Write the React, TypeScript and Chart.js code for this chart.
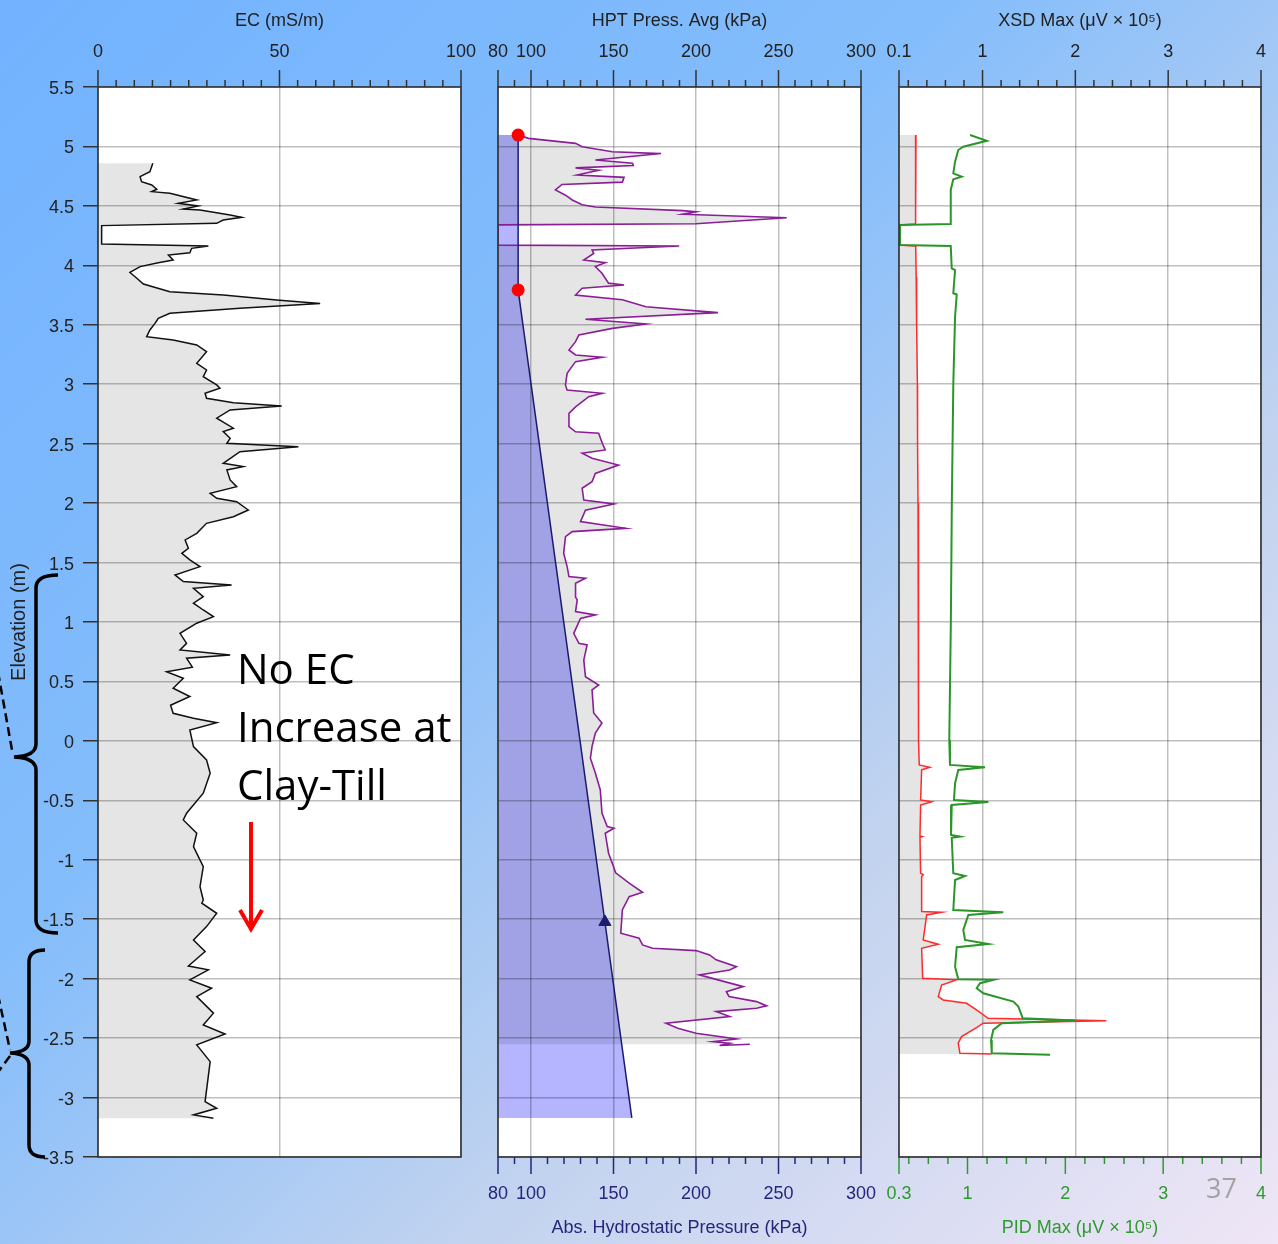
import React, { useEffect, useRef } from "react";
import { Chart, registerables } from "chart.js";

Chart.register(...registerables);

const W = 1278;
const H = 1244;
const FONT = "'Liberation Sans', Arial, Helvetica, sans-serif";

// ---------- axes ----------
const elevationTicks = [5.5, 5, 4.5, 4, 3.5, 3, 2.5, 2, 1.5, 1, 0.5, 0, -0.5, -1, -1.5, -2, -2.5, -3, -3.5];
const ecTicks = [0, 50, 100];
const hptTicks = [80, 100, 150, 200, 250, 300];
const xsdTicks = [0.1, 1, 2, 3, 4];
const pidTicks = [0.3, 1, 2, 3, 4];

// ---------- EC log ----------
const ecElevation = [4.858, 4.788, 4.746, 4.704, 4.676, 4.64, 4.62, 4.606, 4.55, 4.522, 4.5, 4.474, 4.466, 4.424, 4.404, 4.381, 4.353, 4.334, 4.18, 4.163, 4.143, 4.106, 4.087, 4.045, 4.022, 3.989, 3.94, 3.891, 3.843, 3.778, 3.75, 3.708, 3.68, 3.64, 3.597, 3.555, 3.512, 3.456, 3.4, 3.372, 3.33, 3.274, 3.176, 3.12, 3.064, 2.994, 2.966, 2.924, 2.882, 2.845, 2.817, 2.784, 2.714, 2.63, 2.601, 2.545, 2.503, 2.475, 2.433, 2.335, 2.307, 2.279, 2.195, 2.138, 2.083, 2.041, 2.012, 1.942, 1.886, 1.83, 1.746, 1.69, 1.62, 1.578, 1.522, 1.466, 1.396, 1.34, 1.312, 1.284, 1.213, 1.158, 1.101, 1.045, 0.99, 0.905, 0.821, 0.765, 0.723, 0.695, 0.62, 0.582, 0.527, 0.443, 0.373, 0.3, 0.232, 0.19, 0.153, 0.092, -0.048, -0.16, -0.272, -0.44, -0.608, -0.665, -0.777, -0.89, -1.057, -1.226, -1.338, -1.365, -1.45, -1.562, -1.674, -1.772, -1.893, -1.926, -2.01, -2.08, -2.151, -2.29, -2.389, -2.465, -2.557, -2.698, -3.034, -3.09, -3.146, -3.174];
const ecValue = [15.1, 14.3, 11.6, 12.0, 14.8, 16.2, 14.8, 19.8, 27.2, 22.1, 27.6, 23.5, 28.1, 36.4, 39.6, 34.5, 32.7, 1.0, 1.0, 30.4, 25.8, 25.3, 19.4, 20.7, 16.6, 11.6, 8.8, 10.7, 12.5, 19.8, 34.5, 49.2, 61.2, 39.1, 19.8, 16.6, 15.7, 14.3, 13.4, 20.7, 27.2, 29.9, 27.2, 29.9, 29.0, 32.7, 33.6, 29.5, 29.9, 37.3, 50.6, 36.4, 32.7, 37.3, 34.5, 36.4, 35.5, 55.2, 39.1, 34.5, 40.0, 35.5, 36.4, 38.2, 30.9, 32.7, 38.2, 41.4, 37.3, 29.9, 27.2, 24.0, 24.9, 23.1, 25.3, 28.1, 21.2, 23.5, 36.8, 26.3, 29.0, 26.3, 29.0, 31.8, 27.2, 22.6, 24.4, 22.6, 36.4, 24.4, 26.0, 18.9, 23.5, 20.7, 25.3, 20.0, 20.7, 26.3, 32.7, 25.3, 26.3, 29.9, 30.9, 29.0, 24.4, 23.5, 27.2, 26.3, 29.0, 28.1, 29.0, 28.6, 32.7, 29.9, 26.3, 29.5, 24.9, 30.4, 25.3, 31.3, 27.2, 31.8, 29.0, 35.0, 27.2, 30.9, 29.5, 32.7, 26.3, 31.8];

// ---------- HPT pressure ----------
const hptElevation = [5.096, 5.068, 5.026, 4.998, 4.956, 4.94, 4.886, 4.858, 4.84, 4.82, 4.8, 4.76, 4.74, 4.7, 4.68, 4.634, 4.59, 4.55, 4.51, 4.49, 4.46, 4.45, 4.43, 4.4, 4.35, 4.34, 4.17, 4.163, 4.13, 4.1, 4.045, 4.022, 3.99, 3.933, 3.85, 3.835, 3.807, 3.75, 3.71, 3.652, 3.602, 3.546, 3.507, 3.47, 3.414, 3.358, 3.288, 3.246, 3.227, 3.19, 3.092, 2.994, 2.952, 2.924, 2.895, 2.81, 2.755, 2.643, 2.6, 2.587, 2.503, 2.447, 2.42, 2.377, 2.32, 2.25, 2.18, 2.125, 2.026, 1.993, 1.94, 1.844, 1.788, 1.76, 1.718, 1.578, 1.466, 1.382, 1.368, 1.326, 1.21, 1.186, 1.087, 1.06, 1.03, 0.905, 0.82, 0.807, 0.68, 0.54, 0.47, 0.43, 0.235, 0.15, 0.066, -0.047, -0.145, -0.27, -0.413, -0.607, -0.72, -0.735, -0.777, -0.945, -1.03, -1.11, -1.197, -1.273, -1.31, -1.42, -1.618, -1.66, -1.716, -1.744, -1.764, -1.8, -1.842, -1.899, -1.927, -1.968, -2.067, -2.109, -2.15, -2.193, -2.229, -2.249, -2.277, -2.319, -2.375, -2.417, -2.459, -2.507, -2.53, -2.543, -2.562, -2.551];
const hptPressure = [92.4, 98.5, 127, 131, 149.3, 178.8, 139, 161.5, 162, 127, 141, 128, 156.4, 155.4, 118.8, 114.8, 120.9, 125, 131, 139, 192, 200, 192, 255, 200, 80, 80, 189.8, 137, 138, 132, 145, 139, 143, 147, 156.4, 131, 127, 155.4, 169.6, 213.3, 133, 169.6, 149.3, 129, 127, 123, 127, 143.2, 127, 121.9, 120.9, 121.9, 143.2, 135, 127, 123, 123, 127, 141, 143.2, 145, 131, 137, 153, 139, 137, 131, 132, 150.3, 133, 130, 157.4, 125, 120.9, 119.8, 121.9, 123, 133, 127, 127, 128, 127, 139, 130, 125.9, 129, 134, 132, 133, 141, 137, 138, 143, 139, 137, 136, 139, 142, 143, 146.2, 150.3, 145, 147, 149.3, 151.3, 159.5, 167.6, 159.5, 155.4, 154.4, 165.5, 167.6, 173.7, 200, 208.2, 212.2, 224.5, 220.4, 202, 228.6, 218.4, 220, 236.7, 242.8, 236.7, 212.2, 220.4, 181.8, 189, 200, 224.5, 210.3, 220.4, 214.3, 232.6];

// ---------- Absolute hydrostatic pressure ----------
const hydroElevation = [5.096, 3.793, -3.171];
const hydroPressure = [92.2, 92.2, 161.1];
const markerElevation = [5.096, 3.793];
const markerPressure = [92.2, 92.2];
const triangleElevation = [-1.523];
const trianglePressure = [144.8];

// ---------- XSD (red, top axis) ----------
const xsdElevation = [5.096, 4.7, 4.4, 4.348, 4.34, 4.171, 4.163, 3.9, 3.5, 3.0, 2.5, 2.0, 1.5, 1.0, 0.5, 0.008, -0.202, -0.222, -0.244, -0.497, -0.511, -0.539, -0.8, -0.805, -0.81, -1.113, -1.125, -1.14, -1.436, -1.441, -1.464, -1.674, -1.71, -1.744, -1.997, -2.01, -2.053, -2.151, -2.179, -2.207, -2.263, -2.333, -2.355, -2.375, -2.403, -2.487, -2.543, -2.627, -2.633];
const xsdValue = [0.283, 0.283, 0.278, 0.275, 0.1, 0.1, 0.28, 0.285, 0.29, 0.298, 0.3, 0.305, 0.31, 0.31, 0.314, 0.308, 0.318, 0.433, 0.344, 0.333, 0.452, 0.333, 0.326, 0.35, 0.326, 0.333, 0.361, 0.344, 0.344, 0.559, 0.398, 0.361, 0.523, 0.344, 0.355, 0.72, 0.559, 0.523, 0.576, 0.828, 0.935, 1.06, 2.333, 1.006, 0.953, 0.774, 0.738, 0.756, 1.097];

// ---------- PID (green, bottom axis) ----------
const pidElevation = [5.096, 5.048, 4.998, 4.97, 4.872, 4.774, 4.746, 4.724, 4.634, 4.41, 4.348, 4.34, 4.171, 4.163, 3.975, 3.96, 3.765, 3.755, 3.568, 3.0, 2.0, 1.0, 0.008, -0.202, -0.222, -0.244, -0.356, -0.497, -0.513, -0.539, -0.791, -0.805, -0.815, -1.113, -1.136, -1.17, -1.422, -1.441, -1.464, -1.59, -1.674, -1.708, -1.736, -1.899, -2.005, -2.01, -2.038, -2.08, -2.123, -2.193, -2.235, -2.333, -2.352, -2.375, -2.431, -2.515, -2.627, -2.641];
const pidValue = [1.026, 1.197, 0.957, 0.906, 0.873, 0.855, 0.941, 0.855, 0.829, 0.829, 0.829, 0.31, 0.31, 0.829, 0.839, 0.873, 0.855, 0.89, 0.873, 0.855, 0.84, 0.83, 0.814, 0.821, 1.179, 0.906, 0.873, 0.862, 1.213, 0.839, 0.832, 0.924, 0.839, 0.855, 0.975, 0.873, 0.855, 1.366, 1.009, 0.957, 0.975, 1.213, 0.89, 0.873, 0.906, 1.264, 1.128, 1.094, 1.162, 1.469, 1.52, 1.565, 2.1, 1.35, 1.264, 1.241, 1.248, 1.844];

// ---------- layout constants ----------
const PLOT_TOP = 87;
const PLOT_BOTTOM = 1157;
const P1 = [98, 461];
const P2 = [498, 861];
const P3 = [899, 1261];

function range(a: number, b: number, step: number, skip: number[]) {
  const out: number[] = [];
  for (let v = a; v <= b + 1e-9; v += step) {
    const r = Math.round(v * 100) / 100;
    if (!skip.some((s) => Math.abs(s - r) < 1e-6)) out.push(r);
  }
  return out;
}

const pts = (xs: number[], ys: number[]) => xs.map((x, i) => ({ x, y: ys[i] }));

type FillDef = { xs: number[]; ys: number[]; axis: string; color: string };
type TickDef = { axis: string; side: "top" | "bottom"; major: number[]; minor: number[]; color: string };

function makeDecor(id: string, fills: FillDef[], tickSets: TickDef[]) {
  return {
    id,
    beforeDraw(chart: any) {
      const { ctx, chartArea: a, scales } = chart;
      ctx.save();
      ctx.fillStyle = "#ffffff";
      ctx.fillRect(a.left, a.top, a.right - a.left, a.bottom - a.top);
      ctx.beginPath();
      ctx.rect(a.left, a.top, a.right - a.left, a.bottom - a.top);
      ctx.clip();
      const yS = scales.y;
      for (const f of fills) {
        const xS = scales[f.axis];
        ctx.beginPath();
        ctx.moveTo(a.left, yS.getPixelForValue(f.ys[0]));
        f.xs.forEach((v, i) => ctx.lineTo(xS.getPixelForValue(v), yS.getPixelForValue(f.ys[i])));
        ctx.lineTo(a.left, yS.getPixelForValue(f.ys[f.ys.length - 1]));
        ctx.closePath();
        ctx.fillStyle = f.color;
        ctx.fill();
      }
      ctx.restore();
    },
    afterDraw(chart: any) {
      const { ctx, chartArea: a, scales } = chart;
      ctx.save();
      for (const t of tickSets) {
        const s = scales[t.axis];
        const edge = t.side === "top" ? a.top : a.bottom;
        const dir = t.side === "top" ? -1 : 1;
        ctx.strokeStyle = t.color;
        ctx.lineWidth = 1.5;
        ctx.beginPath();
        for (const v of t.major) {
          const x = s.getPixelForValue(v);
          ctx.moveTo(x, edge);
          ctx.lineTo(x, edge + dir * 17);
        }
        for (const v of t.minor) {
          const x = s.getPixelForValue(v);
          ctx.moveTo(x, edge);
          ctx.lineTo(x, edge + dir * 7);
        }
        ctx.stroke();
      }
      ctx.strokeStyle = "#333333";
      ctx.lineWidth = 1.6;
      ctx.strokeRect(a.left, a.top, a.right - a.left, a.bottom - a.top);
      ctx.restore();
    },
  };
}

const GRID = "rgba(0,0,0,0.25)";
const fmt = (v: any) => String(Math.round(Number(v) * 100) / 100);

function xAxis(position: "top" | "bottom", min: number, max: number, ticks: number[], title: string, color: string, drawGrid: boolean) {
  return {
    type: "linear",
    axis: "x",
    position,
    min,
    max,
    afterBuildTicks: (s: any) => {
      s.ticks = ticks.map((v) => ({ value: v }));
    },
    afterFit: (s: any) => {
      s.height = position === "top" ? PLOT_TOP : H - PLOT_BOTTOM;
    },
    grid: {
      display: true,
      drawOnChartArea: drawGrid,
      drawTicks: true,
      tickLength: position === "top" ? 24 : 26,
      tickColor: "rgba(0,0,0,0)",
      color: GRID,
      lineWidth: 1.5,
    },
    border: { display: false },
    ticks: {
      autoSkip: false,
      maxRotation: 0,
      minRotation: 0,
      padding: 0,
      color,
      font: { family: FONT, size: 18 },
      callback: (v: any) => fmt(v),
    },
    title: {
      display: true,
      text: title,
      color,
      font: { family: FONT, size: 18 },
      padding: position === "top" ? { top: 10, bottom: 0 } : { top: 0, bottom: 5 },
    },
  };
}

function yAxis(labeled: boolean) {
  return {
    type: "linear",
    axis: "y",
    position: "left",
    min: -3.5,
    max: 5.5,
    afterBuildTicks: (s: any) => {
      s.ticks = elevationTicks.map((v) => ({ value: v }));
    },
    afterFit: (s: any) => {
      s.width = labeled ? P1[0] : 0;
    },
    grid: {
      color: GRID,
      lineWidth: 1.5,
      drawTicks: labeled,
      tickLength: 15,
      tickColor: "#333333",
      tickWidth: 1.5,
    },
    border: { display: false },
    ticks: {
      display: labeled,
      padding: 9,
      labelOffset: 2,
      color: "#222222",
      font: { family: FONT, size: 18 },
      callback: (v: any) => fmt(v),
    },
    title: {
      display: labeled,
      text: "Elevation (m)",
      color: "#222222",
      font: { family: FONT, size: 20 },
      padding: { top: 7, bottom: 0 },
    },
  };
}

const baseOptions = (left: number, right: number, bottomPad: number) => ({
  responsive: false,
  animation: false,
  events: [],
  devicePixelRatio: 1,
  layout: { padding: { left, top: 0, right: W - right, bottom: bottomPad } },
  plugins: { legend: { display: false }, tooltip: { enabled: false } },
});

function ecConfig() {
  return {
    type: "scatter",
    data: {
      datasets: [
        {
          data: pts(ecValue, ecElevation),
          xAxisID: "xTop",
          yAxisID: "y",
          showLine: true,
          borderColor: "#111111",
          borderWidth: 1.5,
          pointRadius: 0,
        },
      ],
    },
    options: {
      ...baseOptions(0, P1[1], H - PLOT_BOTTOM),
      scales: {
        xTop: xAxis("top", 0, 100, ecTicks, "EC (mS/m)", "#222222", true),
        y: yAxis(true),
      },
    },
    plugins: [
      makeDecor(
        "decorEC",
        [{ xs: ecValue, ys: ecElevation, axis: "xTop", color: "rgba(0,0,0,0.1)" }],
        [{ axis: "xTop", side: "top", major: ecTicks, minor: range(5, 95, 5, ecTicks), color: "#333333" }]
      ),
    ],
  };
}

const NAVY = "#26267a";
const GREEN = "#2e9a2e";

function hptConfig() {
  return {
    type: "scatter",
    data: {
      datasets: [
        {
          data: pts(markerPressure, markerElevation),
          xAxisID: "xBot",
          yAxisID: "y",
          showLine: false,
          pointRadius: 6.5,
          pointBackgroundColor: "#ff0000",
          pointBorderWidth: 0,
        },
        {
          data: pts(trianglePressure, triangleElevation),
          xAxisID: "xBot",
          yAxisID: "y",
          showLine: false,
          pointStyle: "triangle",
          pointRadius: 7,
          pointBackgroundColor: "#1c1c6e",
          pointBorderColor: "#1c1c6e",
          pointBorderWidth: 1,
        },
        {
          data: pts(hydroPressure, hydroElevation),
          xAxisID: "xBot",
          yAxisID: "y",
          showLine: true,
          borderColor: "#1c1c6e",
          borderWidth: 1.5,
          pointRadius: 0,
        },
        {
          data: pts(hptPressure, hptElevation),
          xAxisID: "xTop",
          yAxisID: "y",
          showLine: true,
          borderColor: "#8a1e96",
          borderWidth: 1.6,
          pointRadius: 0,
        },
      ],
    },
    options: {
      ...baseOptions(P2[0], P2[1], 0),
      scales: {
        xTop: xAxis("top", 80, 300, hptTicks, "HPT Press. Avg (kPa)", "#222222", true),
        xBot: xAxis("bottom", 80, 300, hptTicks, "Abs. Hydrostatic Pressure (kPa)", NAVY, false),
        y: yAxis(false),
      },
    },
    plugins: [
      makeDecor(
        "decorHPT",
        [
          { xs: hydroPressure, ys: hydroElevation, axis: "xBot", color: "#b4b4ff" },
          { xs: hptPressure, ys: hptElevation, axis: "xTop", color: "rgba(0,0,0,0.1)" },
        ],
        [
          { axis: "xTop", side: "top", major: hptTicks, minor: range(90, 290, 10, hptTicks), color: "#333333" },
          { axis: "xBot", side: "bottom", major: hptTicks, minor: range(90, 290, 10, hptTicks), color: NAVY },
        ]
      ),
    ],
  };
}

function xsdConfig() {
  return {
    type: "scatter",
    data: {
      datasets: [
        {
          data: pts(pidValue, pidElevation),
          xAxisID: "xBot",
          yAxisID: "y",
          showLine: true,
          borderColor: "#2a962a",
          borderWidth: 2,
          pointRadius: 0,
        },
        {
          data: pts(xsdValue, xsdElevation),
          xAxisID: "xTop",
          yAxisID: "y",
          showLine: true,
          borderColor: "#ff2a2a",
          borderWidth: 1.5,
          pointRadius: 0,
        },
      ],
    },
    options: {
      ...baseOptions(P3[0], P3[1], 0),
      scales: {
        xTop: xAxis("top", 0.1, 4, xsdTicks, "XSD Max (\u03bcV \u00d7 10\u2075)", "#222222", true),
        xBot: xAxis("bottom", 0.3, 4, pidTicks, "PID Max (\u03bcV \u00d7 10\u2075)", GREEN, false),
        y: yAxis(false),
      },
    },
    plugins: [
      makeDecor(
        "decorXSD",
        [{ xs: xsdValue, ys: xsdElevation, axis: "xTop", color: "rgba(0,0,0,0.1)" }],
        [
          { axis: "xTop", side: "top", major: xsdTicks, minor: range(0.2, 3.8, 0.2, [1, 2, 3]), color: "#333333" },
          { axis: "xBot", side: "bottom", major: pidTicks, minor: range(0.4, 3.8, 0.2, [1, 2, 3]), color: GREEN },
        ]
      ),
    ],
  };
}

function ChartCanvas({ build }: { build: () => any }) {
  const ref = useRef<HTMLCanvasElement>(null);
  useEffect(() => {
    const chart = new Chart(ref.current as HTMLCanvasElement, build());
    return () => chart.destroy();
  }, [build]);
  return (
    <canvas
      ref={ref}
      width={W}
      height={H}
      style={{ position: "absolute", left: 0, top: 0, width: W, height: H }}
    />
  );
}

export default function App() {
  return (
    <div
      style={{
        position: "absolute",
        left: 0,
        top: 0,
        width: W,
        height: H,
        overflow: "hidden",
        background: "linear-gradient(135deg, #72b2ff 0%, #84bdfb 38%, #c2d3ef 68%, #efe6f6 100%)",
      }}
    >
      <ChartCanvas build={ecConfig} />
      <ChartCanvas build={hptConfig} />
      <ChartCanvas build={xsdConfig} />
      <svg width={W} height={H} style={{ position: "absolute", left: 0, top: 0 }}>
        <path
          d="M 58 575 Q 36 575 36 588 L 36 744 Q 36 756 14 757 Q 36 758 36 770 L 36 920 Q 36 933 58 933"
          fill="none"
          stroke="#000"
          strokeWidth={3.5}
        />
        <path
          d="M 45 950 Q 29 950 29 962 L 29 1041 Q 29 1052 10 1053 Q 29 1054 29 1065 L 29 1145 Q 29 1157 45 1157"
          fill="none"
          stroke="#000"
          strokeWidth={3.5}
        />
        <path d="M -2 672 L 12 750" fill="none" stroke="#000" strokeWidth={2.5} strokeDasharray="9 5" />
        <path d="M -2 995 L 10 1050" fill="none" stroke="#000" strokeWidth={2.5} strokeDasharray="9 5" />
        <path d="M 10 1056 L -2 1072" fill="none" stroke="#000" strokeWidth={2.5} strokeDasharray="9 5" />
        <path d="M 251 822 L 251 928" fill="none" stroke="#ff0000" strokeWidth={4} />
        <path d="M 240 910 L 251 929 L 262 910" fill="none" stroke="#ff0000" strokeWidth={4} />
      </svg>
      <div
        style={{
          position: "absolute",
          left: 237,
          top: 639,
          fontFamily: "'Open Sans', 'Noto Sans', sans-serif",
          fontSize: 42,
          lineHeight: "58px",
          color: "#000",
          whiteSpace: "nowrap",
        }}
      >
        No EC
        <br />
        Increase at
        <br />
        Clay-Till
      </div>
      <div
        style={{
          position: "absolute",
          left: 1206,
          top: 1170,
          fontFamily: "'Open Sans', 'Noto Sans', sans-serif",
          fontSize: 27,
          lineHeight: "36px",
          color: "#a3a3a3",
        }}
      >
        37
      </div>
    </div>
  );
}
